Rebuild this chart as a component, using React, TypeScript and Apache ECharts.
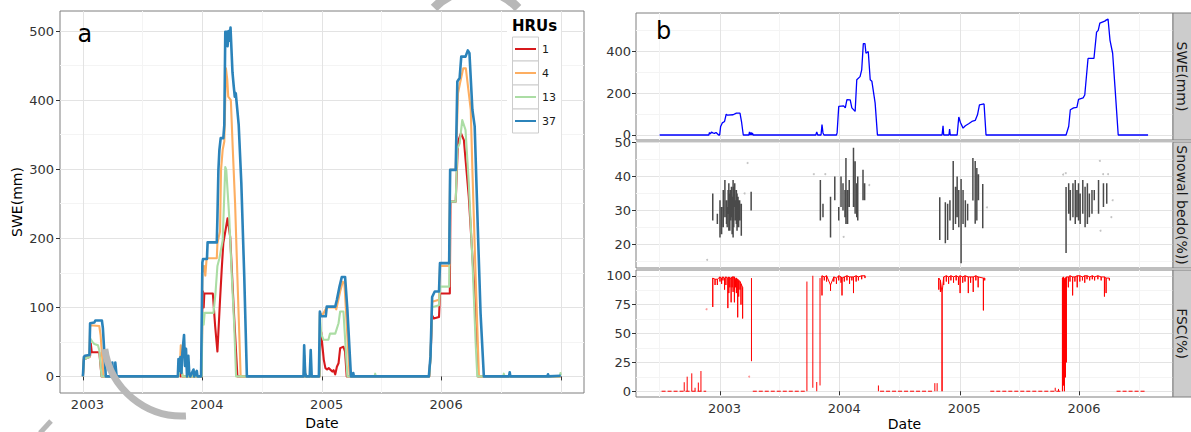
import React, { useEffect, useRef } from "react";
import * as echarts from "echarts";

// ---------------- data ----------------
const hruNames = ["1", "4", "13", "37"];
const hruColors = ["#d7191c", "#fdae61", "#abdda4", "#2b83ba"];

const hru1: [string, number][] = [
  ["2003-01-01", 0], ["2003-01-04", 25], ["2003-01-21", 28], ["2003-01-23", 30], ["2003-01-25", 48], ["2003-01-28", 35], ["2003-02-20", 35], ["2003-02-27", 0],
  ["2003-10-18", 0], ["2003-10-22", 15], ["2003-10-26", 0], ["2003-10-28", 30], ["2003-10-31", 0],
  ["2003-12-30", 0], ["2004-01-01", 120], ["2004-01-03", 123], ["2004-01-05", 100], ["2004-01-07", 120], ["2004-02-02", 120], ["2004-02-09", 73], ["2004-02-16", 36], ["2004-02-24", 111], ["2004-02-29", 154], ["2004-03-05", 193], ["2004-03-18", 229], ["2004-03-26", 202], ["2004-04-07", 87], ["2004-04-17", 0],
  ["2004-12-24", 0], ["2004-12-27", 66], ["2004-12-29", 64], ["2005-01-01", 48], ["2005-01-06", 24], ["2005-01-11", 12], ["2005-01-16", 10], ["2005-01-21", 12], ["2005-02-01", 7], ["2005-02-05", 9], ["2005-02-10", 3], ["2005-02-15", 14], ["2005-02-20", 19], ["2005-02-25", 41], ["2005-03-07", 43], ["2005-03-12", 36], ["2005-03-17", 0],
  ["2005-11-24", 0], ["2005-11-28", 29], ["2005-12-03", 88], ["2005-12-08", 84], ["2005-12-24", 86], ["2005-12-27", 120], ["2006-01-26", 120], ["2006-01-28", 253], ["2006-02-13", 253], ["2006-02-20", 340], ["2006-03-01", 352], ["2006-03-10", 342], ["2006-03-25", 260], ["2006-04-10", 135], ["2006-04-22", 0],
  ["2006-12-31", 0],
];

const hru4: [string, number][] = [
  ["2003-01-01", 0], ["2003-01-04", 27], ["2003-01-21", 29], ["2003-01-23", 74], ["2003-02-20", 73], ["2003-02-24", 60], ["2003-03-05", 0],
  ["2003-10-20", 0], ["2003-10-25", 20], ["2003-10-27", 45], ["2003-10-29", 10], ["2003-11-02", 0],
  ["2003-12-30", 0], ["2004-01-01", 150], ["2004-01-06", 160], ["2004-01-10", 146], ["2004-01-14", 171], ["2004-02-14", 171], ["2004-02-16", 193], ["2004-02-24", 210], ["2004-02-27", 299], ["2004-03-03", 328], ["2004-03-08", 340], ["2004-03-13", 446], ["2004-03-17", 430], ["2004-03-20", 405], ["2004-03-28", 400], ["2004-04-03", 328], ["2004-04-10", 250], ["2004-04-17", 144], ["2004-04-27", 0],
  ["2004-11-06", 0], ["2004-11-08", 30], ["2004-11-11", 0], ["2004-12-24", 0], ["2004-12-25", 92], ["2005-01-01", 88], ["2005-01-15", 100], ["2005-02-10", 100], ["2005-02-13", 97], ["2005-02-25", 123], ["2005-03-05", 137], ["2005-03-10", 135], ["2005-03-26", 0],
  ["2005-11-24", 0], ["2005-11-28", 29], ["2005-12-03", 108], ["2005-12-24", 111], ["2005-12-27", 160], ["2006-01-24", 160], ["2006-01-27", 299], ["2006-02-13", 299], ["2006-02-20", 410], ["2006-02-26", 424], ["2006-03-08", 446], ["2006-03-16", 446], ["2006-03-31", 386], ["2006-04-05", 299], ["2006-04-15", 144], ["2006-04-25", 0],
  ["2006-12-31", 0],
];

const hru13: [string, number][] = [
  ["2003-01-01", 0], ["2003-01-04", 25], ["2003-01-21", 28], ["2003-01-23", 55], ["2003-01-30", 50], ["2003-02-05", 47], ["2003-02-16", 45], ["2003-02-20", 38], ["2003-02-27", 0],
  ["2003-10-20", 0], ["2003-10-27", 25], ["2003-11-01", 0],
  ["2003-12-30", 0], ["2004-01-01", 88], ["2004-01-03", 92], ["2004-01-05", 75], ["2004-01-08", 92], ["2004-02-04", 92], ["2004-02-10", 120], ["2004-02-16", 160], ["2004-02-22", 171], ["2004-03-03", 197], ["2004-03-11", 303], ["2004-03-14", 299], ["2004-03-23", 231], ["2004-03-31", 144], ["2004-04-07", 77], ["2004-04-13", 0],
  ["2004-12-24", 0], ["2004-12-25", 88], ["2004-12-29", 62], ["2005-01-05", 53], ["2005-01-20", 53], ["2005-01-25", 62], ["2005-02-10", 62], ["2005-02-20", 77], ["2005-02-25", 94], ["2005-03-07", 94], ["2005-03-19", 0],
  ["2005-06-10", 0], ["2005-06-12", 4], ["2005-06-14", 0],
  ["2005-11-24", 0], ["2005-11-28", 25], ["2005-12-03", 100], ["2005-12-24", 103], ["2005-12-27", 130], ["2006-01-24", 130], ["2006-01-27", 253], ["2006-02-13", 253], ["2006-02-18", 330], ["2006-02-25", 337], ["2006-03-05", 371], ["2006-03-15", 357], ["2006-03-25", 280], ["2006-04-05", 169], ["2006-04-15", 48], ["2006-04-20", 0],
  ["2006-07-08", 0], ["2006-07-10", 4], ["2006-07-12", 0],
  ["2006-12-28", 0], ["2006-12-30", 5], ["2006-12-31", 2],
];

const hru37: [string, number][] = [
  ["2003-01-01", 0], ["2003-01-04", 28], ["2003-01-07", 30], ["2003-01-21", 31], ["2003-01-23", 77], ["2003-02-05", 78], ["2003-02-08", 81], ["2003-02-28", 81], ["2003-03-03", 70], ["2003-03-08", 30], ["2003-03-12", 0],
  ["2003-03-30", 0], ["2003-04-01", 20], ["2003-04-03", 0], ["2003-04-09", 0], ["2003-04-10", 20], ["2003-04-12", 20], ["2003-04-14", 0],
  ["2003-10-18", 0], ["2003-10-20", 25], ["2003-10-23", 8], ["2003-10-26", 28], ["2003-10-29", 5], ["2003-11-01", 35], ["2003-11-06", 60], ["2003-11-09", 15], ["2003-11-12", 40], ["2003-11-15", 0], ["2003-11-19", 30], ["2003-11-22", 5], ["2003-11-25", 0], ["2003-12-05", 10], ["2003-12-07", 0], ["2003-12-15", 8], ["2003-12-17", 0],
  ["2003-12-28", 0], ["2004-01-01", 165], ["2004-01-03", 170], ["2004-01-15", 170], ["2004-01-17", 194], ["2004-02-14", 194], ["2004-02-16", 231], ["2004-02-19", 299], ["2004-02-22", 328], ["2004-02-26", 345], ["2004-03-05", 345], ["2004-03-08", 364], ["2004-03-11", 499], ["2004-03-16", 499], ["2004-03-18", 478], ["2004-03-21", 500], ["2004-03-24", 486], ["2004-03-27", 505], ["2004-04-02", 440], ["2004-04-06", 419], ["2004-04-09", 405], ["2004-04-12", 410], ["2004-04-21", 364], ["2004-04-29", 280], ["2004-05-08", 144], ["2004-05-16", 0],
  ["2004-11-05", 0], ["2004-11-07", 45], ["2004-11-10", 5], ["2004-11-13", 0], ["2004-11-24", 0], ["2004-11-27", 38], ["2004-11-30", 0], ["2004-12-22", 0], ["2004-12-25", 94], ["2004-12-28", 87], ["2005-01-12", 87], ["2005-01-15", 101], ["2005-02-10", 101], ["2005-02-15", 111], ["2005-02-23", 130], ["2005-03-02", 144], ["2005-03-12", 144], ["2005-03-19", 97], ["2005-03-30", 0],
  ["2005-04-04", 0], ["2005-04-06", 5], ["2005-04-08", 0],
  ["2005-11-23", 0], ["2005-11-28", 29], ["2005-12-03", 115], ["2005-12-11", 123], ["2005-12-24", 123], ["2005-12-27", 164], ["2006-01-24", 164], ["2006-01-27", 299], ["2006-02-13", 299], ["2006-02-18", 427], ["2006-02-25", 432], ["2006-03-02", 463], ["2006-03-15", 463], ["2006-03-22", 472], ["2006-03-27", 468], ["2006-04-05", 386], ["2006-04-12", 362], ["2006-04-23", 193], ["2006-04-30", 91], ["2006-05-10", 0],
  ["2006-07-26", 0], ["2006-07-28", 6], ["2006-07-30", 0],
  ["2006-11-20", 0], ["2006-11-22", 3], ["2006-11-24", 0], ["2006-12-31", 1],
];

const hruSeries = [hru1, hru4, hru13, hru37];

// panel b: SWE of one HRU
const sweB: [string, number][] = [
  ["2002-07-01", 0], ["2002-11-28", 0], ["2002-11-30", 12], ["2002-12-03", 5], ["2002-12-06", 14], ["2002-12-10", 10], ["2002-12-15", 8], ["2002-12-20", 12], ["2002-12-28", 0],
  ["2002-12-31", 0], ["2003-01-03", 41], ["2003-01-08", 58], ["2003-01-15", 65], ["2003-01-20", 100], ["2003-01-24", 95], ["2003-02-10", 97], ["2003-02-20", 105], ["2003-03-03", 105], ["2003-03-08", 60], ["2003-03-13", 0],
  ["2003-03-30", 0], ["2003-04-01", 15], ["2003-04-03", 0], ["2003-04-06", 12], ["2003-04-08", 0], ["2003-04-10", 10], ["2003-04-12", 0],
  ["2003-10-20", 0], ["2003-10-23", 15], ["2003-10-26", 0], ["2003-11-05", 0], ["2003-11-08", 50], ["2003-11-11", 10], ["2003-11-14", 0],
  ["2003-12-22", 0], ["2003-12-24", 10], ["2003-12-29", 137], ["2004-01-13", 140], ["2004-01-18", 130], ["2004-01-23", 170], ["2004-02-02", 168], ["2004-02-07", 130], ["2004-02-17", 113], ["2004-02-22", 265], ["2004-03-03", 280], ["2004-03-08", 312], ["2004-03-13", 438], ["2004-03-18", 438], ["2004-03-21", 392], ["2004-03-28", 400], ["2004-04-03", 265], ["2004-04-08", 258], ["2004-04-18", 153], ["2004-04-25", 0],
  ["2004-11-08", 0], ["2004-11-11", 44], ["2004-11-13", 0], ["2004-11-29", 0], ["2004-12-01", 29], ["2004-12-03", 0], ["2004-12-24", 0], ["2004-12-29", 86], ["2005-01-03", 60], ["2005-01-11", 33], ["2005-01-18", 44], ["2005-01-28", 54], ["2005-02-07", 65], ["2005-02-17", 70], ["2005-02-24", 97], ["2005-03-02", 144], ["2005-03-16", 149], ["2005-03-22", 0],
  ["2005-11-21", 0], ["2005-11-29", 41], ["2005-12-04", 121], ["2005-12-14", 130], ["2005-12-24", 132], ["2005-12-29", 171], ["2006-01-12", 178], ["2006-01-17", 192], ["2006-01-27", 367], ["2006-02-14", 367], ["2006-02-22", 493], ["2006-02-27", 502], ["2006-03-04", 536], ["2006-03-19", 546], ["2006-03-24", 552], ["2006-03-29", 556], ["2006-04-04", 454], ["2006-04-12", 392], ["2006-04-19", 233], ["2006-04-29", 0], ["2006-07-29", 0],
];

// snow albedo: [date, low, high] daily swings
const albedoStrokes: [string, number, number][] = [
  ["2002-12-10", 27, 35], ["2002-12-24", 26, 29], ["2003-01-01", 22, 33], ["2003-01-06", 23, 31], ["2003-01-11", 25, 36], ["2003-01-16", 28, 39], ["2003-01-21", 26, 33], ["2003-01-23", 25, 31], ["2003-01-26", 29, 36], ["2003-01-28", 24, 38], ["2003-01-31", 24, 35], ["2003-02-02", 27, 36], ["2003-02-05", 28, 37], ["2003-02-07", 23, 34], ["2003-02-10", 22, 39], ["2003-02-12", 25, 37], ["2003-02-15", 31, 38], ["2003-02-17", 27, 33], ["2003-02-20", 26, 36], ["2003-02-22", 24, 35], ["2003-02-25", 25, 34], ["2003-02-27", 25, 33], ["2003-03-02", 27, 33], ["2003-03-07", 22.5, 32], ["2003-04-06", 30, 35.5],
  ["2003-11-03", 27, 39], ["2003-11-11", 28, 32], ["2003-12-04", 22, 34], ["2003-12-17", 33, 40], ["2003-12-29", 27, 31], ["2004-01-05", 31, 40], ["2004-01-11", 30, 38], ["2004-01-17", 28, 36], ["2004-01-20", 26, 45.5], ["2004-01-25", 26, 36], ["2004-01-30", 31, 39], ["2004-02-12", 31, 48.5], ["2004-02-17", 29, 44.5], ["2004-02-22", 28, 38], ["2004-02-25", 27, 40], ["2004-03-12", 33, 42], ["2004-03-17", 33, 38],
  ["2004-11-01", 21.3, 33.9], ["2004-11-18", 20.3, 32.4], ["2004-11-25", 21.3, 32], ["2004-12-02", 27, 33], ["2004-12-12", 24.2, 44.6], ["2004-12-19", 26, 37], ["2004-12-24", 28, 40], ["2004-12-29", 25, 36], ["2005-01-05", 14.4, 39.3], ["2005-01-11", 26, 36], ["2005-01-18", 25, 33], ["2005-01-25", 27, 32], ["2005-02-10", 32.9, 45.5], ["2005-02-17", 26.1, 44.6], ["2005-02-22", 27, 42.5], ["2005-02-27", 33, 40.7], ["2005-03-12", 24.7, 37.8],
  ["2005-11-21", 17.4, 36.9], ["2005-11-29", 29, 38], ["2005-12-04", 27, 36], ["2005-12-12", 28, 38], ["2005-12-19", 26, 39], ["2005-12-24", 28, 36], ["2005-12-29", 27, 38], ["2006-01-03", 26, 35], ["2006-01-11", 29, 39], ["2006-01-18", 25, 37], ["2006-01-25", 26, 38], ["2006-01-31", 28, 35], ["2006-02-08", 29, 36], ["2006-02-15", 33, 36], ["2006-02-28", 29, 39], ["2006-03-15", 31, 38], ["2006-03-25", 32, 38],
];
const albedoDots: [string, number][] = [
  ["2002-11-23", 15.4], ["2003-03-26", 44], ["2003-03-17", 35], ["2003-10-14", 40.7], ["2003-11-18", 40.7], ["2004-01-13", 22.2], ["2004-03-31", 37.5],
  ["2005-03-25", 30.9], ["2005-11-12", 40.6], ["2005-11-20", 41], ["2006-03-04", 44.6], ["2006-03-14", 40.7], ["2006-03-29", 40.7], ["2006-04-12", 33], ["2006-04-08", 28], ["2006-03-06", 24],
];

// fractional snow cover: isolated strokes [date, low, high]
const fscSpikes: [string, number, number][] = [
  ["2002-09-14", 0, 7.8], ["2002-09-23", 0, 12.6], ["2002-10-07", 0, 15.5], ["2002-10-17", 0, 3], ["2002-10-27", 0, 7.5], ["2002-11-04", 0, 17.5],
  ["2003-04-07", 26, 98], ["2003-09-23", 0, 95], ["2003-10-11", 3, 100], ["2003-10-23", 0, 8], ["2003-11-02", 5, 98],
  ["2004-04-28", 0, 5], ["2004-10-17", 0, 7], ["2004-10-24", 0, 7], ["2005-10-19", 0, 3], ["2005-10-29", 0, 2],
];
// winter bands of near-full cover [date, low, high]
const fscWinter1: [string, number, number][] = [
  ["2002-12-10", 73, 98], ["2002-12-17", 92, 97], ["2002-12-24", 92, 97], ["2003-01-01", 95, 99], ["2003-01-06", 93, 98], ["2003-01-10", 96, 99], ["2003-01-15", 88, 98], ["2003-01-19", 92, 99], ["2003-01-25", 72, 98], ["2003-01-28", 85, 99], ["2003-01-31", 90, 98], ["2003-02-04", 77, 98], ["2003-02-07", 90, 99], ["2003-02-10", 86, 99], ["2003-02-14", 77, 99], ["2003-02-17", 90, 97], ["2003-02-20", 85, 98], ["2003-02-24", 64, 97], ["2003-02-27", 82, 96], ["2003-03-03", 88, 95], ["2003-03-06", 75, 93], ["2003-03-11", 63, 90],
];
const fscWinter2: [string, number, number][] = [
  ["2003-11-08", 83, 100], ["2003-11-15", 96, 99], ["2003-11-22", 95, 100], ["2003-12-04", 87, 92], ["2003-12-14", 95, 99], ["2003-12-22", 93, 98], ["2003-12-29", 96, 100], ["2004-01-05", 94, 99], ["2004-01-08", 83, 98], ["2004-01-15", 95, 99], ["2004-01-23", 96, 100], ["2004-01-31", 93, 99], ["2004-02-07", 96, 99], ["2004-02-12", 85, 99], ["2004-02-20", 95, 100], ["2004-02-27", 96, 99], ["2004-03-08", 97, 100], ["2004-03-18", 98, 100],
];
const fscWinter3: [string, number, number][] = [
  ["2004-10-29", 88, 98], ["2004-11-03", 86, 96], ["2004-11-08", 0, 85], ["2004-11-13", 92, 99], ["2004-11-21", 95, 100], ["2004-11-28", 93, 99], ["2004-12-05", 96, 100], ["2004-12-13", 94, 99], ["2004-12-21", 96, 100], ["2004-12-28", 92, 99], ["2005-01-02", 85, 100], ["2005-01-10", 94, 99], ["2005-01-17", 95, 100], ["2005-01-27", 85, 99], ["2005-02-03", 94, 99], ["2005-02-11", 86, 99], ["2005-02-19", 96, 100], ["2005-02-26", 90, 99], ["2005-03-14", 70, 98], ["2005-03-18", 96, 98],
];
const fscWinter4: [string, number, number][] = [
  ["2005-11-10", 0, 98], ["2005-11-13", 5, 99], ["2005-11-16", 0, 97], ["2005-11-19", 12, 98], ["2005-11-22", 25, 99], ["2005-11-28", 90, 99], ["2005-12-03", 95, 100], ["2005-12-11", 83, 99], ["2005-12-18", 95, 99], ["2005-12-25", 90, 100], ["2006-01-02", 95, 100], ["2006-01-10", 96, 99], ["2006-01-17", 94, 100], ["2006-01-24", 97, 100], ["2006-02-01", 96, 99], ["2006-02-09", 97, 100], ["2006-02-16", 96, 99], ["2006-02-26", 97, 100], ["2006-03-08", 96, 99], ["2006-03-18", 82, 99], ["2006-03-23", 85, 98], ["2006-04-02", 96, 98],
];
// snow-free runs (FSC = 0)
const fscZeroRuns: [string, string][] = [
  ["2002-07-07", "2002-11-20"], ["2003-04-11", "2003-09-21"], ["2004-05-03", "2004-10-09"], ["2005-04-04", "2005-11-07"], ["2006-04-24", "2006-07-24"],
];
const fscDots: [string, number][] = [["2002-11-21", 71], ["2003-03-31", 12.6]];

// ticks
const yearTicksA = ["2003-01-01", "2004-01-01", "2005-01-01", "2006-01-01", "2007-01-01"];
const yearLabelsA = ["2003-01-01", "2004-01-01", "2005-01-01", "2006-01-01"];
const midYearsA = ["2003-07-01", "2004-07-01", "2005-07-01", "2006-07-01"];
const sweTicksA = [0, 100, 200, 300, 400, 500];
const sweMinorA = [50, 150, 250, 350, 450];

const yearTicksB = ["2003-01-01", "2004-01-01", "2005-01-01", "2006-01-01"];
const midYearsB = ["2002-07-01", "2003-07-01", "2004-07-01", "2005-07-01", "2006-07-01"];
const sweTicksB = [0, 200, 400];
const sweMinorB = [100, 300, 500];
const albTicks = [20, 30, 40, 50];
const albMinor = [15, 25, 35, 45];
const fscTicks = [0, 25, 50, 75, 100];
const fscMinor = [12.5, 37.5, 62.5, 87.5];

const facetLabels = ["SWE(mm)", "Snowal bedo(%))", "FSC(%)"];

// ---------------- helpers ----------------
const FONT = "DejaVu Sans";
const t = (s: string) => Date.UTC(+s.slice(0, 4), +s.slice(5, 7) - 1, +s.slice(8, 10));
const yearFmt = (v: number) => String(new Date(v).getUTCFullYear());
const pts = (a: [string, number][]) => a.map(([d, v]) => [t(d), v]);
const strokes = (a: [string, number, number][]) =>
  a.flatMap(([d, lo, hi]) => [[t(d), hi], [t(d), lo], [t(d), "-"]]);
const band = (a: [string, number, number][]) => [
  ...a.flatMap(([d, lo, hi]) => [[t(d), hi], [t(d), lo], [t(d), hi]]),
  [t(a[a.length - 1][0]), "-"],
];

const GRID_BORDER = "#7f7f7f";
const MAJOR = "#e3e3e3";
const MINOR = "#f4f4f4";
const TICK = "#333333";

function xPair(gi: number, min: number, max: number, ticks: string[], labels: string[] | null, minor: string[], name?: string, nameGap?: number) {
  const major: any = {
    type: "value", gridIndex: gi, min, max,
    axisLine: { show: false },
    axisTick: { show: !!labels, length: 4, customValues: ticks.map(t), lineStyle: { color: TICK, width: 1 } },
    axisLabel: labels
      ? { show: true, customValues: labels.map(t), formatter: yearFmt, margin: 5, padding: [0, 0, 0, 9], color: "#333", fontSize: 13, fontFamily: FONT }
      : { show: false },
    splitLine: { show: true, customValues: ticks.map(t), lineStyle: { color: MAJOR, width: 1 } },
  };
  if (name) {
    major.name = name;
    major.nameLocation = "middle";
    major.nameGap = nameGap;
    major.nameTextStyle = { fontSize: 14, color: "#000", fontFamily: FONT };
  }
  const min2: any = {
    type: "value", gridIndex: gi, min, max,
    axisLine: { show: false },
    axisTick: { show: false, customValues: minor.map(t) },
    axisLabel: { show: false },
    splitLine: { show: true, customValues: minor.map(t), lineStyle: { color: MINOR, width: 1 } },
  };
  return [major, min2];
}

function yPair(gi: number, min: number, max: number, ticks: number[], minor: number[], margin: number, name?: string) {
  const major: any = {
    type: "value", gridIndex: gi, min, max,
    axisLine: { show: false },
    axisTick: { show: true, length: 4, customValues: ticks, lineStyle: { color: TICK, width: 1 } },
    axisLabel: { show: true, customValues: ticks, margin, color: "#333", fontSize: 13, fontFamily: FONT },
    splitLine: { show: true, customValues: ticks, lineStyle: { color: MAJOR, width: 1 } },
  };
  if (name) {
    major.name = name;
    major.nameLocation = "middle";
    major.nameGap = 36;
    major.nameTextStyle = { fontSize: 14, color: "#000", fontFamily: FONT };
  }
  const min2: any = {
    type: "value", gridIndex: gi, min, max,
    axisLine: { show: false },
    axisTick: { show: false, customValues: minor },
    axisLabel: { show: false },
    splitLine: { show: true, customValues: minor, lineStyle: { color: MINOR, width: 1 } },
  };
  return [major, min2];
}

function buildOption() {
  const gridBoxes = [
    { left: 60, top: 11, width: 524, height: 382 },
    { left: 636, top: 13, width: 537, height: 127 },
    { left: 636, top: 142, width: 537, height: 126 },
    { left: 636, top: 270, width: 537, height: 127 },
  ];
  const grid = gridBoxes.map((g) => ({
    ...g, show: true, borderColor: GRID_BORDER, borderWidth: 1, backgroundColor: "#ffffff",
    containLabel: false, outerBoundsMode: "none",
  }));

  const aMin = t("2002-10-23"), aMax = t("2007-03-12");
  const bMin = t("2002-04-20"), bMax = t("2006-10-13");

  const xAxis = [
    ...xPair(0, aMin, aMax, yearTicksA, yearLabelsA, midYearsA, "Date", 18),
    ...xPair(1, bMin, bMax, yearTicksB, null, midYearsB),
    ...xPair(2, bMin, bMax, yearTicksB, null, midYearsB),
    ...xPair(3, bMin, bMax, yearTicksB, yearTicksB, midYearsB, "Date", 20),
  ];
  const yAxis = [
    ...yPair(0, -24, 529, sweTicksA, sweMinorA, 6, "SWE(mm)"),
    ...yPair(1, -24, 585, sweTicksB, sweMinorB, 5),
    ...yPair(2, 13, 50.2, albTicks, albMinor, 5),
    ...yPair(3, -5, 105, fscTicks, fscMinor, 5),
  ];

  const series: any[] = [];
  hruSeries.forEach((s, i) => {
    series.push({
      type: "line", name: hruNames[i], xAxisIndex: 0, yAxisIndex: 0, data: pts(s),
      symbol: "none", showSymbol: false, silent: true, z: 2 + i,
      lineStyle: { color: hruColors[i], width: i === 3 ? 2.6 : 2.1, join: "round" },
      itemStyle: { color: hruColors[i] },
    });
  });
  series.push({
    type: "line", name: "SWE b", xAxisIndex: 2, yAxisIndex: 2, data: pts(sweB),
    symbol: "none", silent: true, lineStyle: { color: "#0000ff", width: 1.3 },
  });
  series.push({
    type: "line", name: "albedo", xAxisIndex: 4, yAxisIndex: 4, data: strokes(albedoStrokes),
    symbol: "none", silent: true, connectNulls: false, lineStyle: { color: "#4a4a4a", width: 1.5 },
  });
  series.push({
    type: "scatter", name: "albedo pts", xAxisIndex: 4, yAxisIndex: 4, data: pts(albedoDots),
    symbolSize: 2, silent: true, itemStyle: { color: "#b5b5b5" },
  });
  const fscData = [
    ...strokes(fscSpikes),
    ...band(fscWinter1), ...band(fscWinter2), ...band(fscWinter3), ...band(fscWinter4),
  ];
  series.push({
    type: "line", name: "FSC", xAxisIndex: 6, yAxisIndex: 6, data: fscData,
    symbol: "none", silent: true, connectNulls: false, lineStyle: { color: "#ff0000", width: 1 },
  });
  series.push({
    type: "line", name: "FSC zero", xAxisIndex: 6, yAxisIndex: 6,
    data: fscZeroRuns.flatMap(([s, e]) => [[t(s), 0], [t(e), 0], [t(e), "-"]]),
    symbol: "none", silent: true, connectNulls: false,
    lineStyle: { color: "#ff0000", width: 1, type: [4, 2] },
  });
  series.push({
    type: "scatter", name: "FSC pts", xAxisIndex: 6, yAxisIndex: 6, data: pts(fscDots),
    symbolSize: 2, silent: true, itemStyle: { color: "#ff8080" },
  });

  const graphic: any[] = [];
  // facet strips
  gridBoxes.slice(1).forEach((g, i) => {
    graphic.push({
      type: "rect", shape: { x: 1173, y: g.top, width: 24, height: g.height },
      style: { fill: "#cccccc", stroke: GRID_BORDER, lineWidth: 1 }, z: 5,
    });
    graphic.push({
      type: "text", x: 1182, y: g.top + g.height / 2, rotation: -Math.PI / 2, z: 6,
      style: { text: facetLabels[i], fontSize: 14, fontFamily: FONT, fill: "#1a1a1a", align: "center", verticalAlign: "middle" },
    });
  });
  // legend of panel a
  graphic.push({ type: "rect", shape: { x: 507, y: 13, width: 54, height: 124 }, style: { fill: "#ffffff" }, z: 10 });
  graphic.push({
    type: "text", x: 512, y: 26, z: 11,
    style: { text: "HRUs", fontSize: 15, fontWeight: "bold", fontFamily: FONT, fill: "#000", align: "left", verticalAlign: "middle" },
  });
  hruNames.forEach((n, i) => {
    const y0 = 37 + 24 * i;
    graphic.push({ type: "rect", shape: { x: 512.5, y: y0, width: 26, height: 24 }, style: { fill: "#ffffff", stroke: "#cccccc", lineWidth: 1 }, z: 11 });
    graphic.push({ type: "line", shape: { x1: 515, y1: y0 + 12, x2: 536, y2: y0 + 12 }, style: { stroke: hruColors[i], lineWidth: 2 }, z: 12 });
    graphic.push({
      type: "text", x: 542, y: y0 + 12, z: 12,
      style: { text: n, fontSize: 11, fontFamily: FONT, fill: "#1a1a1a", align: "left", verticalAlign: "middle" },
    });
  });
  // panel letters
  graphic.push({ type: "text", x: 77.5, y: 34, z: 12, style: { text: "a", fontSize: 24, fontFamily: FONT, fill: "#000", align: "left", verticalAlign: "middle" } });
  graphic.push({ type: "text", x: 656, y: 31, z: 12, style: { text: "b", fontSize: 24, fontFamily: FONT, fill: "#000", align: "left", verticalAlign: "middle" } });
  // grey watermark strokes
  graphic.push({ type: "arc", shape: { cx: 476, cy: 48, r: 58, startAngle: -2.38, endAngle: -0.76, clockwise: true }, style: { stroke: "#b8b8b8", lineWidth: 9, fill: null }, z: 20, silent: true });
  graphic.push({ type: "arc", shape: { cx: 182, cy: 338, r: 78, startAngle: 1.52, endAngle: 3.0, clockwise: true }, style: { stroke: "#b8b8b8", lineWidth: 7, fill: null }, z: 20, silent: true });
  graphic.push({ type: "line", shape: { x1: 40, y1: 433, x2: 51, y2: 421 }, style: { stroke: "#b8b8b8", lineWidth: 5 }, z: 20, silent: true });

  return {
    animation: false,
    backgroundColor: "#ffffff",
    textStyle: { fontFamily: FONT },
    grid, xAxis, yAxis, series, graphic,
  };
}

export default function App() {
  const ref = useRef<HTMLDivElement>(null);
  useEffect(() => {
    document.body.style.margin = "0";
    const chart = echarts.init(ref.current!, null, { renderer: "svg" });
    chart.setOption(buildOption() as any);
    return () => chart.dispose();
  }, []);
  return <div ref={ref} style={{ width: 1191, height: 432 }} />;
}
